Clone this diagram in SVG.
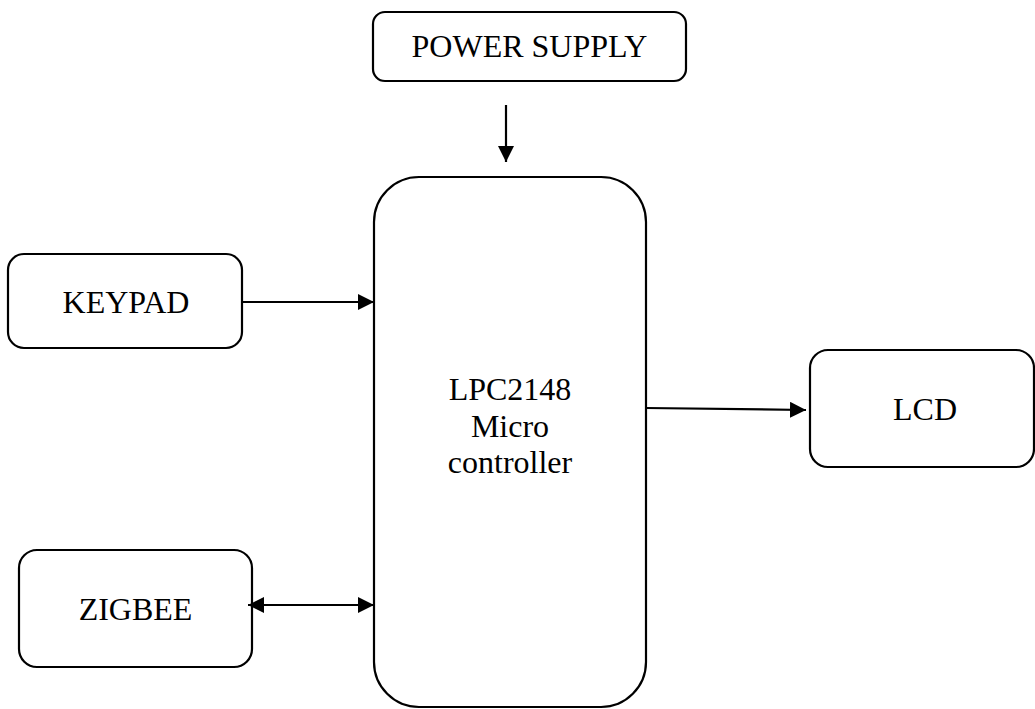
<svg xmlns="http://www.w3.org/2000/svg" width="1035" height="709" viewBox="0 0 1035 709">
<style>
.box{fill:#fff;stroke:#000;stroke-width:2.2}
.lbl{font-family:"Liberation Serif","Times New Roman",serif;font-size:32px;fill:#000;text-anchor:middle}
.conn{stroke:#000;stroke-width:2.2;fill:none}
</style>
<defs>
<marker id="ah" markerUnits="userSpaceOnUse" markerWidth="16" markerHeight="16" viewBox="0 0 16 16" refX="16" refY="8" orient="auto-start-reverse">
<path d="M0,0 L16,8 L0,16 Z" fill="#000"/>
</marker>
</defs>
<rect width="1035" height="709" fill="#fff"/>
<g id="power-supply">
<rect class="box" x="373" y="12" width="313" height="69" rx="12"/>
<text class="lbl" x="529.5" y="57">POWER SUPPLY</text>
</g>
<g id="mcu">
<rect class="box" x="374" y="177" width="272" height="530" rx="45"/>
<text class="lbl" x="510" y="400">LPC2148</text>
<text class="lbl" x="510" y="437">Micro</text>
<text class="lbl" x="510" y="473">controller</text>
</g>
<g id="keypad">
<rect class="box" x="8" y="254" width="234" height="94" rx="16"/>
<text class="lbl" x="126" y="313">KEYPAD</text>
</g>
<g id="zigbee">
<rect class="box" x="19" y="550" width="233" height="117" rx="18"/>
<text class="lbl" x="135.5" y="620">ZIGBEE</text>
</g>
<g id="lcd">
<rect class="box" x="810" y="350" width="224" height="117" rx="18"/>
<text class="lbl" x="925" y="420">LCD</text>
</g>
<g id="connectors">
<line class="conn" x1="506" y1="105" x2="506" y2="162" marker-end="url(#ah)"/>
<line class="conn" x1="242" y1="302" x2="374" y2="302" marker-end="url(#ah)"/>
<line class="conn" x1="248" y1="605" x2="374" y2="605" marker-start="url(#ah)" marker-end="url(#ah)"/>
<line class="conn" x1="646" y1="408" x2="806" y2="410" marker-end="url(#ah)"/>
</g>
</svg>
